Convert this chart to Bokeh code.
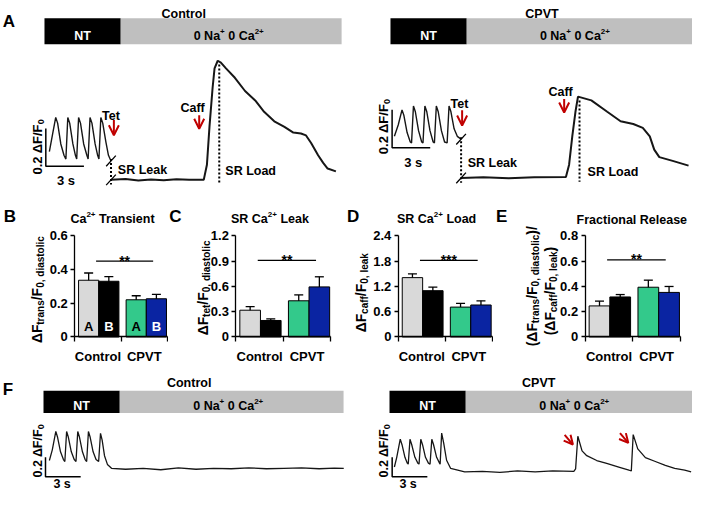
import math
from bokeh.plotting import figure
from bokeh.models import (Range1d, Label, Arrow, OpenHead, Whisker, TeeHead,
                          ColumnDataSource, FixedTicker, CustomJSTickFormatter)
from bokeh.layouts import column, row
from bokeh.embed import file_html
from bokeh.resources import INLINE

# ------------------------------------------------------------------ data
groups = ["Control", "CPVT"]
cell_lines = ["A", "B", "A", "B"]
bar_colors = ["#d9d9d9", "#000000", "#33c98b", "#0a24a2"]

transient_mean = [0.337, 0.331, 0.221, 0.227]
transient_err = [0.043, 0.028, 0.024, 0.026]
leak_mean = [0.318, 0.196, 0.43, 0.595]
leak_err = [0.042, 0.019, 0.07, 0.12]
load_mean = [1.41, 1.10, 0.71, 0.76]
load_err = [0.09, 0.085, 0.09, 0.10]
frac_mean = [0.246, 0.317, 0.394, 0.353]
frac_err = [0.038, 0.019, 0.056, 0.047]

sig_labels = ["**", "**", "***", "**"]
sig_level = [0.45, 0.91, 1.82, 0.61]
y_max = [0.6, 1.2, 2.4, 0.8]
y_ticks = [[0, 0.2, 0.4, 0.6], [0, 0.3, 0.6, 0.9, 1.2],
           [0, 0.6, 1.2, 1.8, 2.4], [0, 0.2, 0.4, 0.6, 0.8]]

protocol = ["NT", "0 Na", "+", " 0 Ca", "2+"]

# traces: time (s), dF/F0
ctrl_pace_t = [0, 0.25, 0.5, 0.65, 0.9, 1.15, 1.3, 1.45, 1.6, 1.85, 2.05, 2.15, 2.3, 2.45,
               2.7, 2.95, 3.05, 3.2, 3.35, 3.6, 3.8, 3.9, 4.05, 4.2, 4.45, 4.65, 4.85]
ctrl_pace_f = [0.15, 0.24, 0.33, 0.30, 0.19, 0.13, 0.11, 0.33, 0.30, 0.19, 0.13, 0.11, 0.33, 0.30,
               0.19, 0.13, 0.11, 0.33, 0.30, 0.19, 0.13, 0.11, 0.33, 0.30, 0.20, 0.13, 0.10]
ctrl_caff_t = [4.85, 6, 7, 8, 9, 10, 11, 12.15, 12.4, 12.6, 12.85, 13.0, 13.25, 13.5, 13.9, 14.6,
               15.4, 16.2, 16.9, 17.7, 18.5, 19.2, 19.8, 20.2, 20.6, 21.15, 21.55, 21.9, 22.55]
ctrl_caff_f = [0.0, 0.004, -0.003, 0.002, -0.002, 0.003, 0.0, 0.0, 0.08, 0.28, 0.49, 0.59, 0.63,
               0.62, 0.59, 0.54, 0.47, 0.42, 0.36, 0.31, 0.28, 0.25, 0.245, 0.235, 0.195, 0.13,
               0.09, 0.06, 0.045]

cpvt_pace_t = [0, 0.3, 0.6, 0.75, 1.0, 1.25, 1.35, 1.5, 1.65, 1.9, 2.15, 2.25, 2.4, 2.55, 2.8,
               3.05, 3.15, 3.3, 3.45, 3.7, 3.95, 4.15, 4.3, 4.45, 4.7, 4.95, 5.25]
cpvt_pace_f = [0.22, 0.28, 0.36, 0.33, 0.24, 0.19, 0.185, 0.38, 0.35, 0.25, 0.19, 0.185, 0.38,
               0.35, 0.25, 0.19, 0.185, 0.38, 0.35, 0.25, 0.19, 0.185, 0.38, 0.35, 0.26, 0.22, 0.205]
cpvt_caff_t = [5.25, 7, 9, 11, 13.5, 13.75, 14.0, 14.25, 14.45, 15.5, 16.75, 17.8, 18.8, 19.55,
               20.1, 20.45, 20.85, 21.9, 23.15]
cpvt_caff_f = [0.0, 0.003, -0.002, 0.004, 0.005, 0.07, 0.22, 0.35, 0.43, 0.41, 0.35, 0.30, 0.285,
               0.265, 0.22, 0.15, 0.11, 0.09, 0.065]

ctrlF_t = [0, 0.25, 0.55, 0.7, 0.95, 1.2, 1.32, 1.47, 1.62, 1.87, 2.12, 2.27, 2.42, 2.57, 2.82,
           3.05, 3.18, 3.33, 3.48, 3.73, 3.98, 4.2, 4.36, 4.5, 4.7, 4.95, 5.3, 6.5, 8, 9.5, 11,
           12.5, 14, 15.5, 17, 18.5, 20, 21.5, 23, 24.3, 25.1]
ctrlF_f = [0.09, 0.2, 0.39, 0.33, 0.18, 0.1, 0.08, 0.39, 0.33, 0.18, 0.1, 0.08, 0.39, 0.33, 0.18,
           0.1, 0.08, 0.39, 0.33, 0.18, 0.1, 0.08, 0.37, 0.3, 0.14, 0.05, 0.01, 0.0, 0.01, -0.005,
           0.015, 0.0, 0.01, 0.005, 0.015, 0.005, 0.01, 0.015, 0.005, 0.012, 0.01]

cpvtF_t = [0, 0.2, 0.5, 0.65, 0.9, 1.1, 1.18, 1.33, 1.48, 1.75, 2.0, 2.1, 2.25, 2.4, 2.65, 2.9,
           3.04, 3.19, 3.34, 3.6, 3.85, 3.9, 4.03, 4.2, 4.45, 4.8, 6, 7.5, 9, 10.5, 12, 13.5,
           15.3, 15.45, 15.64, 16.0, 16.4, 17.25, 18.1, 19.2, 20.0, 20.2, 20.36, 20.75, 21.4,
           22.25, 23.1, 23.9, 24.75, 25.3]
cpvtF_f = [0.05, 0.15, 0.337, 0.28, 0.15, 0.09, 0.08, 0.337, 0.28, 0.15, 0.09, 0.08, 0.337, 0.28,
           0.15, 0.09, 0.08, 0.337, 0.28, 0.15, 0.09, 0.08, 0.40, 0.30, 0.12, 0.035, 0.0, 0.005,
           -0.005, 0.01, 0.0, 0.01, 0.005, 0.03, 0.367, 0.217, 0.167, 0.117, 0.087, 0.047, 0.017,
           0.01, 0.384, 0.237, 0.147, 0.107, 0.067, 0.037, 0.017, 0.0]

# ------------------------------------------------------------------ style / layout
FONT = "Liberation Sans"
REF_W, REF_H = 708, 509
PAGE_W, PAGE_H = 692, 493
SX = PAGE_W / REF_W
SY = PAGE_H / REF_H
RED = "#c00000"
HDR_GRAY = "#bfbfbf"
TRACE = "#161616"

W = {' ': 278, '!': 333, '(': 333, ')': 333, '*': 389, '+': 584, ',': 278, '-': 333, '.': 278,
     '/': 278, 'A': 722, 'B': 722, 'C': 722, 'D': 722, 'E': 667, 'F': 611, 'L': 611, 'N': 722,
     'P': 667, 'R': 722, 'S': 667, 'T': 611, 'V': 667, 'a': 556, 'c': 556, 'd': 611, 'e': 556,
     'f': 333, 'i': 278, 'k': 556, 'l': 278, 'n': 611, 'o': 611, 'r': 389, 's': 556, 't': 333,
     'Δ': 700}
for _d in "0123456789":
    W[_d] = 556


def tw(t, s):
    return sum(W.get(c, 600) for c in t) / 1000.0 * s


def pgx(v):
    return int(round(v * SX))


def pgy(v):
    return int(round(v * SY))


def rich(p, x, y, segs, align="center", vertical=False, color="black"):
    """segs: (text, size_px, baseline_shift_px) -- pieces laid out one after another"""
    total = sum(tw(s[0], s[1]) for s in segs)
    main = max(s[1] for s in segs)
    pos = {"left": 0.0, "center": -total / 2.0, "right": -total}[align]
    drop = -0.36 * main
    for s in segs:
        t, size, sh = s[0], s[1], s[2]
        lead = len(t) - len(t.lstrip(" "))
        core = t.strip(" ")
        start = pos + tw(" " * lead, size)
        d = sh + drop
        if vertical:
            xo, yo, ang = -d, start, math.pi / 2
        else:
            xo, yo, ang = start, d, 0.0
        if core:
            p.add_layout(Label(x=x, y=y, x_offset=xo, y_offset=yo, text=core, angle=ang,
                               text_font=FONT, text_font_style="bold",
                               text_font_size=f"{size}px", text_color=color,
                               text_align="left", text_baseline="alphabetic"))
        pos += tw(t, size)


def trace_fig(y0, y1):
    p = figure(width=PAGE_W, height=pgy(y1) - pgy(y0), x_range=Range1d(0, REF_W),
               y_range=Range1d(y1, y0), output_backend="svg", toolbar_location=None,
               min_border=0, x_axis_location=None, y_axis_location=None)
    p.xgrid.grid_line_color = None
    p.ygrid.grid_line_color = None
    p.outline_line_color = None
    return p


def add_ranges(p, name, x0, y0, kx, ky, ybot, ytop):
    ex = dict(p.extra_x_ranges)
    ey = dict(p.extra_y_ranges)
    ex[name] = Range1d((0 - x0) / kx, (REF_W - x0) / kx)
    ey[name] = Range1d((y0 - ybot) / ky, (y0 - ytop) / ky)
    p.extra_x_ranges = ex
    p.extra_y_ranges = ey


def header(p, y_top, y_bot, segs):
    for left, split, right, nt_cx, sol_cx in segs:
        p.quad(left=[left, split], right=[split, right], top=[y_top, y_top],
               bottom=[y_bot, y_bot], fill_color=["black", HDR_GRAY], line_color=None)
        cy = (y_top + y_bot) / 2
        rich(p, nt_cx, cy, [(protocol[0], 12.5, 0)], color="white")
        rich(p, sol_cx, cy, [(protocol[1], 12.5, 0), (protocol[2], 8, 4.5),
                             (protocol[3], 12.5, 0), (protocol[4], 8, 4.5)])


def scale_bar(p, name, t0, v0, lab_xy, s_xy, fs=13):
    p.line([t0, t0, t0 + 3], [v0 + 0.2, v0, v0], x_range_name=name, y_range_name=name,
           line_color="black", line_width=1.5)
    rich(p, lab_xy[0], lab_xy[1], [("0.2 ΔF/F", fs, 0), ("0", 9, -3)], vertical=True)
    rich(p, s_xy[0], s_xy[1], [("3 s", fs, 0)])


def red_arrow(p, x0, y0, x1, y1, size=10):
    p.add_layout(Arrow(x_start=x0, y_start=y0, x_end=x1, y_end=y1, line_color=RED,
                       line_width=2,
                       end=OpenHead(size=size, line_color=RED, line_width=2)))


A_Y1 = 197          # bottom of panel A band (reference pixels)
ROW_Y0, ROW_Y1 = A_Y1, 377

# ================================================================== panel A
pA = trace_fig(0, A_Y1)
header(pA, 18.3, 45, [(45, 123, 349, 84, 233.5), (399, 477, 708, 438, 587.7)])
rich(pA, 187.5, 9.5, [("Control", 12.5, 0)])
rich(pA, 554, 9.5, [("CPVT", 12.5, 0)])
rich(pA, 8.7, 15.8, [("A", 17, 0)])

for name, x0, y0, pt, pf, ct, cf in [
        ("ca", 50, 185, ctrl_pace_t, ctrl_pace_f, ctrl_caff_t, ctrl_caff_f),
        ("cb", 403, 183, cpvt_pace_t, cpvt_pace_f, cpvt_caff_t, cpvt_caff_f)]:
    add_ranges(pA, name, x0, y0, 13, 195, A_Y1, 0)
    pA.line(pt, pf, x_range_name=name, y_range_name=name, line_color=TRACE, line_width=1.4)
    pA.line(ct, cf, x_range_name=name, y_range_name=name, line_color=TRACE, line_width=2.0)
    te, ve = pt[-1], pf[-1]
    pA.line([te, te], [ve + 0.01, -0.025], x_range_name=name, y_range_name=name,
            line_color="black", line_width=2, line_dash="2 2")
    pA.segment(x0=[te - 0.38, ct[0] - 0.38], y0=[ve - 0.028, cf[0] - 0.028],
               x1=[te + 0.38, ct[0] + 0.38], y1=[ve + 0.028, cf[0] + 0.028],
               x_range_name=name, y_range_name=name, line_color="black", line_width=1.3)
    ipk = max(range(len(cf)), key=lambda i: cf[i])
    tl = ct[ipk] + 0.12
    pA.line([tl, tl], [cf[ipk] - 0.02, -0.02], x_range_name=name, y_range_name=name,
            line_color="black", line_width=2, line_dash="2 2")

scale_bar(pA, "ca", -0.28, 0.072, (33.3, 151), (67, 181))
scale_bar(pA, "cb", -0.18, 0.16, (387.3, 130), (422.3, 162.3))

rich(pA, 113.5, 115, [("Tet", 12.5, 0)])
red_arrow(pA, 116, 123.3, 116, 139)
rich(pA, 196.5, 106, [("Caff", 12.5, 0)])
red_arrow(pA, 203.3, 118.3, 203.3, 132.3)
rich(pA, 120, 170, [("SR Leak", 12.5, 0)], align="left")
rich(pA, 230, 171.7, [("SR Load", 12.5, 0)], align="left")

rich(pA, 470, 101.7, [("Tet", 12.5, 0)])
red_arrow(pA, 472.3, 113.3, 472.3, 129)
rich(pA, 573, 89.3, [("Caff", 12.5, 0)])
red_arrow(pA, 576.7, 101.7, 576.7, 115.5)
rich(pA, 478, 162.7, [("SR Leak", 12.5, 0)], align="left")
rich(pA, 600.7, 172.7, [("SR Load", 12.5, 0)], align="left")

# ================================================================== panels B-E
PANEL_T, PANEL_B = 243.0, 347.5
BAR_X = [0.30, 0.735, 1.325, 1.76]
BAR_W = 0.435
SIG_X = (0.46, 1.69)


def bar_panel(k, X0, X1, L, R, means, errs, letter, letter_xy, title_segs, title_xy,
              ylabels, in_bar=False):
    ymax = y_max[k]

    def D(px, py):
        return ((px - L) / (R - L) * 2, (PANEL_B - py) / (PANEL_B - PANEL_T) * ymax)

    w = pgx(X1) - pgx(X0)
    h = pgy(ROW_Y1) - pgy(ROW_Y0)
    p = figure(width=w, height=h,
               x_range=Range1d(D(X0, 0)[0], D(X1, 0)[0]),
               y_range=Range1d(D(0, ROW_Y1)[1], D(0, ROW_Y0)[1]),
               output_backend="svg", toolbar_location=None, min_border=0)
    p.xgrid.grid_line_color = None
    p.ygrid.grid_line_color = None
    p.outline_line_color = None

    src = ColumnDataSource(dict(x=BAR_X, top=means, color=bar_colors,
                                lower=[m - e for m, e in zip(means, errs)],
                                upper=[m + e for m, e in zip(means, errs)]))
    p.vbar(x="x", top="top", width=BAR_W, source=src, fill_color="color",
           line_color="black", line_width=1)
    p.add_layout(Whisker(source=src, base="x", upper="upper", lower="lower",
                         line_color="black", line_width=1.3,
                         upper_head=TeeHead(size=9, line_color="black", line_width=1.3),
                         lower_head=TeeHead(size=9, line_color="black", line_width=1.3)))
    lv = sig_level[k]
    p.segment(x0=[SIG_X[0]], x1=[SIG_X[1]], y0=[lv], y1=[lv], line_color="black",
              line_width=1.3)
    p.add_layout(Label(x=sum(SIG_X) / 2, y=lv, y_offset=0.5, text=sig_labels[k],
                       text_align="center", text_baseline="alphabetic", text_font=FONT,
                       text_font_style="bold", text_font_size="14px", text_color="black"))
    if in_bar:
        yb = D(0, 331.7)[1]
        for xi, lab, col in zip(BAR_X, cell_lines, ["black", "white", "black", "white"]):
            rich(p, xi, yb, [(lab, 13, 0)], color=col)

    ya = p.yaxis[0]
    ya.fixed_location = 0
    ya.bounds = (0, ymax)
    ya.ticker = FixedTicker(ticks=y_ticks[k])
    ya.formatter = CustomJSTickFormatter(code="return tick == 0 ? '0' : tick.toFixed(1);")
    ya.major_tick_out = 4
    ya.major_tick_in = 0
    ya.minor_tick_line_color = None
    ya.major_label_standoff = 3
    xa = p.xaxis[0]
    xa.fixed_location = 0
    xa.bounds = (0, 2)
    xa.ticker = FixedTicker(ticks=[0.5, 1.5], minor_ticks=[0, 1, 2])
    xa.formatter = CustomJSTickFormatter(args=dict(names=groups),
                                         code="return names[Math.round(tick - 0.5)];")
    xa.major_tick_line_color = None
    xa.major_tick_out = 0
    xa.major_tick_in = 0
    xa.minor_tick_out = 5
    xa.minor_tick_in = 0
    xa.minor_tick_line_color = "black"
    xa.minor_tick_line_width = 1.3
    xa.major_label_standoff = 7
    for ax in (ya, xa):
        ax.axis_line_width = 1.3
        ax.axis_line_color = "black"
        ax.major_tick_line_width = 1.3
        ax.major_label_text_font = FONT
        ax.major_label_text_font_style = "bold"
        ax.major_label_text_font_size = "13px"
        ax.major_label_text_color = "black"

    rich(p, *D(*letter_xy), [(letter, 17, 0)])
    rich(p, *D(*title_xy), title_segs)
    for (cx, cy), segs in ylabels:
        rich(p, *D(cx, cy), segs, vertical=True)
    return p


BIG, SUB, SH = 14, 10, -3.5
pB = bar_panel(0, 0, 172, 76, 171, transient_mean, transient_err, "B", (9.5, 217),
               [("Ca", 12.5, 0), ("2+", 8, 4.5), (" Transient", 12.5, 0)], (115, 221),
               [((32.5, 298.5), [("ΔF", BIG, 0), ("trans", SUB, SH), ("/F", BIG, 0),
                                 ("0, diastolic", SUB, SH)])], in_bar=True)
pC = bar_panel(1, 172, 348, 241, 338, leak_mean, leak_err, "C", (179, 217),
               [("SR Ca", 12.5, 0), ("2+", 8, 4.5), (" Leak", 12.5, 0)], (275.8, 221),
               [((201.7, 296.7), [("ΔF", BIG, 0), ("tet", SUB, SH), ("/F", BIG, 0),
                                  ("0, diastolic", SUB, SH)])])
pD = bar_panel(2, 348, 504, 407, 502.7, load_mean, load_err, "D", (361, 217),
               [("SR Ca", 12.5, 0), ("2+", 8, 4.5), (" Load", 12.5, 0)], (446, 221),
               [((363.5, 301.7), [("ΔF", BIG, 0), ("caff", SUB, SH), ("/F", BIG, 0),
                                  ("0, leak", SUB, SH)])])
pE = bar_panel(3, 504, 708, 598, 695.7, frac_mean, frac_err, "E", (512.5, 217),
               [("Fractional Release", 12.5, 0)], (645.8, 221.7),
               [((538.3, 295), [("(ΔF", BIG, 0), ("trans", SUB, SH), ("/F", BIG, 0),
                                ("0, diastolic", SUB, SH), (")/", BIG, 0)]),
                ((557, 300), [("(ΔF", BIG, 0), ("caff", SUB, SH), ("/F", BIG, 0),
                              ("0, leak", SUB, SH), (")", BIG, 0)])])

# ================================================================== panel F
pF = trace_fig(ROW_Y1, REF_H)
header(pF, 403, 426, [(44, 122, 351, 83, 233), (398, 476, 708, 437, 587)])
rich(pF, 193, 390, [("Control", 12.5, 0)])
rich(pF, 550.7, 390, [("CPVT", 12.5, 0)])
rich(pF, 7.5, 395, [("F", 17, 0)])

FX = {"cf": (50, 484.0), "pf": (403, 486.7)}
add_ranges(pF, "cf", 50, 484.0, 12, 100, REF_H, ROW_Y1)
add_ranges(pF, "pf", 403, 486.7, 12, 100, REF_H, ROW_Y1)
pF.line(ctrlF_t, ctrlF_f, x_range_name="cf", y_range_name="cf", line_color=TRACE, line_width=1.3)
pF.line(cpvtF_t, cpvtF_f, x_range_name="pf", y_range_name="pf", line_color=TRACE, line_width=1.3)
scale_bar(pF, "cf", -0.33, -0.077, (33.3, 465), (63, 494.5), fs=12.5)
scale_bar(pF, "pf", -0.19, -0.05, (387.3, 465), (417, 494.5), fs=12.5)

for i in range(1, len(cpvtF_f) - 1):
    if cpvtF_t[i] > 10 and cpvtF_f[i] > cpvtF_f[i - 1] and cpvtF_f[i] > cpvtF_f[i + 1] \
            and cpvtF_f[i] > 0.2:
        px = FX["pf"][0] + cpvtF_t[i] * 12
        py = FX["pf"][1] - cpvtF_f[i] * 100
        red_arrow(pF, px - 13.5, py - 1.5, px - 5, py + 8.5, size=9)

layout = column(pA, row(pB, pC, pD, pE), pF)
open("out.html", "w").write(file_html(layout, INLINE))
